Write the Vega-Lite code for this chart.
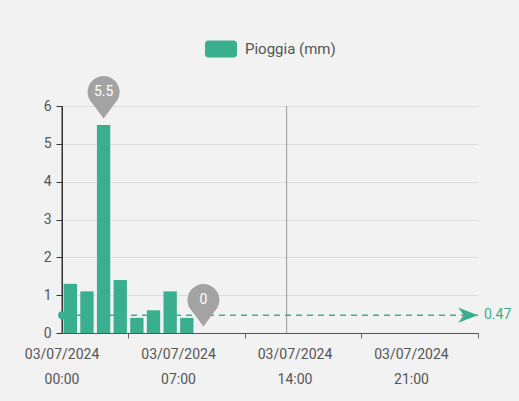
{
  "$schema": "https://vega.github.io/schema/vega-lite/v6.json",
  "width": 416,
  "height": 227,
  "autosize": {"type": "none"},
  "padding": {"left": 62, "top": 106, "right": 41, "bottom": 68},
  "background": "#f2f2f2",
  "config": {
    "view": {"stroke": null},
    "font": "Roboto",
    "axisY": {
      "title": null,
      "grid": true,
      "gridColor": "#dcdcdc",
      "domain": true,
      "domainColor": "#333333",
      "domainWidth": 1,
      "ticks": true,
      "tickColor": "#333333",
      "tickSize": 6,
      "labelFontSize": 14,
      "labelColor": "#555555",
      "labelPadding": 5,
      "labelOverlap": false
    }
  },
  "datasets": {
    "pioggia": [
      {"h": 0, "mm": 1.3}, {"h": 1, "mm": 1.1}, {"h": 2, "mm": 5.5}, {"h": 3, "mm": 1.4},
      {"h": 4, "mm": 0.4}, {"h": 5, "mm": 0.6}, {"h": 6, "mm": 1.1}, {"h": 7, "mm": 0.4},
      {"h": 8, "mm": 0}, {"h": 9, "mm": 0}, {"h": 10, "mm": 0}, {"h": 11, "mm": 0},
      {"h": 12, "mm": 0}, {"h": 13, "mm": 0}, {"h": 14, "mm": 0}, {"h": 15, "mm": 0},
      {"h": 16, "mm": 0}, {"h": 17, "mm": 0}, {"h": 18, "mm": 0}, {"h": 19, "mm": 0},
      {"h": 20, "mm": 0}, {"h": 21, "mm": 0}, {"h": 22, "mm": 0}, {"h": 23, "mm": 0},
      {"h": 24, "mm": 0}
    ],
    "pins": [
      {"h": 2, "mm": 5.5, "label": "5.5"},
      {"h": 8, "mm": 0, "label": "0"}
    ],
    "adesso": [{"h": 13}],
    "inizio": [{"h": 0}]
  },
  "layer": [
    {
      "data": {"name": "pioggia"},
      "mark": {"type": "bar", "width": {"band": 0.8}, "color": "#3aaf8f"},
      "encoding": {
        "x": {
          "field": "h", "type": "ordinal",
          "scale": {"paddingInner": 0, "paddingOuter": 0},
          "axis": {
            "title": null,
            "values": [3, 10, 17, 24],
            "bandPosition": 1,
            "labelOffset": -58.2,
            "labelExpr": "['03/07/2024', (datum.value - 3 < 10 ? '0' : '') + (datum.value - 3) + ':00']",
            "labelAngle": 0,
            "labelOverlap": false,
            "labelFontSize": 14,
            "labelColor": "#555555",
            "labelLineHeight": 25,
            "labelPadding": 9,
            "tickSize": 5,
            "tickColor": "#666666",
            "domainColor": "#555555",
            "grid": false
          }
        },
        "y": {
          "field": "mm", "type": "quantitative",
          "scale": {"domain": [0, 6], "nice": false},
          "axis": {"values": [0, 1, 2, 3, 4, 5, 6], "domain": true, "domainColor": "#333333"}
        },
        "color": {
          "datum": "Pioggia (mm)",
          "scale": {"range": ["#3aaf8f"]},
          "legend": {
            "orient": "none",
            "legendX": 143,
            "legendY": -73,
            "title": null,
            "symbolType": "M-0.8,-0.53 H0.8 A0.2,0.2 0 0 1 1,-0.33 V0.33 A0.2,0.2 0 0 1 0.8,0.53 H-0.8 A0.2,0.2 0 0 1 -1,0.33 V-0.33 A0.2,0.2 0 0 1 -0.8,-0.53 Z",
            "symbolSize": 1024,
            "symbolStrokeWidth": 0,
            "symbolOpacity": 1,
            "labelFontSize": 15,
            "labelColor": "#555555",
            "labelOffset": 8
          }
        }
      }
    },
    {
      "data": {"name": "inizio"},
      "mark": {"type": "rule", "color": "#333333", "strokeWidth": 1},
      "encoding": {"x": {"field": "h", "type": "ordinal", "bandPosition": 0}}
    },
    {
      "data": {"name": "adesso"},
      "mark": {"type": "rule", "color": "#999999", "strokeWidth": 1},
      "encoding": {"x": {"field": "h", "type": "ordinal"}}
    },
    {
      "data": {"name": "pioggia"},
      "mark": {"type": "rule", "color": "#3aaf8f", "strokeDash": [6, 5], "strokeWidth": 1.5},
      "encoding": {"y": {"aggregate": "mean", "field": "mm", "type": "quantitative", "axis": {"values": [0, 1, 2, 3, 4, 5, 6], "domain": true, "domainColor": "#333333"}}}
    },
    {
      "data": {"name": "pioggia"},
      "transform": [
        {"joinaggregate": [{"op": "mean", "field": "mm", "as": "media"}]},
        {"filter": "datum.h == 0"}
      ],
      "mark": {"type": "circle", "color": "#3aaf8f", "opacity": 1, "size": 60},
      "encoding": {
        "x": {"field": "h", "type": "ordinal", "bandPosition": 0},
        "y": {"field": "media", "type": "quantitative", "axis": {"values": [0, 1, 2, 3, 4, 5, 6], "domain": true, "domainColor": "#333333"}}
      }
    },
    {
      "data": {"name": "pioggia"},
      "transform": [
        {"joinaggregate": [{"op": "mean", "field": "mm", "as": "media"}]},
        {"filter": "datum.h == 24"}
      ],
      "mark": {"type": "point", "shape": "M0,0 L-1.8,-0.7 L-1.3,0 L-1.8,0.7 Z", "size": 484, "filled": true, "color": "#3aaf8f", "opacity": 1},
      "encoding": {
        "x": {"field": "h", "type": "ordinal", "bandPosition": 1},
        "y": {"field": "media", "type": "quantitative", "axis": {"values": [0, 1, 2, 3, 4, 5, 6], "domain": true, "domainColor": "#333333"}}
      }
    },
    {
      "data": {"name": "pioggia"},
      "transform": [
        {"joinaggregate": [{"op": "mean", "field": "mm", "as": "media"}]},
        {"filter": "datum.h == 24"}
      ],
      "mark": {"type": "text", "align": "left", "baseline": "middle", "dx": 6, "fontSize": 14, "color": "#3aaf8f"},
      "encoding": {
        "x": {"field": "h", "type": "ordinal", "bandPosition": 1},
        "y": {"field": "media", "type": "quantitative", "axis": {"values": [0, 1, 2, 3, 4, 5, 6], "domain": true, "domainColor": "#333333"}},
        "text": {"field": "media", "type": "quantitative", "format": ".2f"}
      }
    },
    {
      "data": {"name": "pins"},
      "mark": {"type": "point", "shape": "M0,-0.4 L-0.707,-1.353 A1,1 0 1 1 0.707,-1.353 Z", "size": 1024, "filled": true, "color": "#a3a3a3", "opacity": 1},
      "encoding": {
        "x": {"field": "h", "type": "ordinal"},
        "y": {"field": "mm", "type": "quantitative", "axis": {"values": [0, 1, 2, 3, 4, 5, 6], "domain": true, "domainColor": "#333333"}}
      }
    },
    {
      "data": {"name": "pins"},
      "mark": {"type": "text", "align": "center", "baseline": "middle", "dy": -33, "fontSize": 14, "color": "#ffffff"},
      "encoding": {
        "x": {"field": "h", "type": "ordinal"},
        "y": {"field": "mm", "type": "quantitative", "axis": {"values": [0, 1, 2, 3, 4, 5, 6], "domain": true, "domainColor": "#333333"}},
        "text": {"field": "label"}
      }
    }
  ]
}
